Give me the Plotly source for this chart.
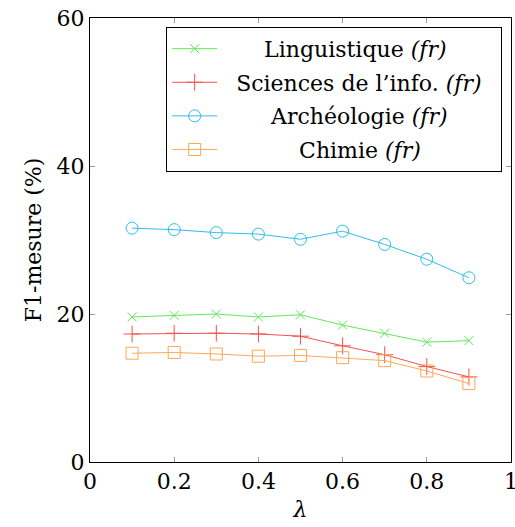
import plotly.graph_objects as go

lambdas = [0.1, 0.2, 0.3, 0.4, 0.5, 0.6, 0.7, 0.8, 0.9]
linguistique = [19.6, 19.8, 20.0, 19.6, 19.9, 18.5, 17.4, 16.2, 16.4]
sciences_info = [17.3, 17.4, 17.4, 17.3, 17.0, 15.7, 14.5, 12.9, 11.5]
archeologie = [31.6, 31.4, 31.0, 30.8, 30.1, 31.2, 29.4, 27.4, 24.9]
chimie = [14.7, 14.8, 14.6, 14.3, 14.4, 14.1, 13.7, 12.3, 10.6]

labels = ["Linguistique <i>(fr)</i>", "Sciences de l\u2019info. <i>(fr)</i>",
          "Archéologie <i>(fr)</i>", "Chimie <i>(fr)</i>"]
pad_left = [6, 2, 7, 11]
pad_right = [0, 2, 0, 0]
series = [linguistique, sciences_info, archeologie, chimie]
colors = ["#5fe85a", "#f2524f", "#33bbee", "#ffa856"]
symbols = ["x-thin", "cross-thin", "circle-open", "square-open"]
sizes = [9, 12, 12, 12]

NB = "\u00a0"
fig = go.Figure()
for i, (lab, s, c, sym, sz) in enumerate(zip(labels, series, colors, symbols, sizes)):
    name = NB * pad_left[i] + lab + NB * pad_right[i]
    fig.add_trace(go.Scatter(
        x=lambdas, y=s, name=name, mode="lines+markers", legendgroup=f"g{i}",
        line=dict(color=c, width=1),
        marker=dict(symbol=sym, size=sz, color=c, line=dict(color=c, width=1)),
    ))

font = "DejaVu Serif"
fig.update_layout(
    width=515, height=527,
    margin=dict(l=90, r=4, t=18, b=65),
    paper_bgcolor="white", plot_bgcolor="white",
    font=dict(family=font, size=22, color="black"),
    showlegend=True,
    legend=dict(
        x=0.979, y=0.98, xanchor="right", yanchor="top",
        bgcolor="white", bordercolor="black", borderwidth=1,
        font=dict(family=font, size=22),
        itemwidth=45, tracegroupgap=2,
    ),
    xaxis=dict(
        range=[0, 1], tickvals=[0, 0.2, 0.4, 0.6, 0.8, 1],
        ticktext=["0", "0.2", "0.4", "0.6", "0.8", "1"],
        ticks="inside", ticklen=5, tickcolor="#999999", tickwidth=1,
        showline=True, linecolor="black", linewidth=1, mirror="ticks",
        showgrid=False, zeroline=False, automargin=False,
        ticklabeloverflow="allow",
        tickfont=dict(family=font, size=22),
        title=dict(text="<i>λ</i>", standoff=8, font=dict(family=font, size=22)),
    ),
    yaxis=dict(
        range=[0, 60], tickvals=[0, 20, 40, 60],
        ticks="inside", ticklen=5, tickcolor="#999999", tickwidth=1,
        showline=True, linecolor="black", linewidth=1, mirror="ticks",
        showgrid=False, zeroline=False, automargin=False,
        ticklabeloverflow="allow",
        tickfont=dict(family=font, size=22),
        title=dict(text="F1-mesure (%)", standoff=8, font=dict(family=font, size=22)),
    ),
)

fig.write_html("out.html", config={"displayModeBar": False},
               post_script="document.body.style.margin='0';")
